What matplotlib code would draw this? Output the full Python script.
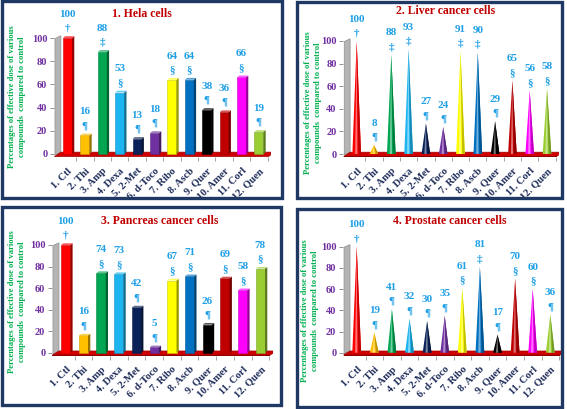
import matplotlib
matplotlib.use('Agg')
import matplotlib.pyplot as plt
from matplotlib.patches import Polygon, Rectangle
from matplotlib.colors import to_rgb
import numpy as np

W, H = 567, 409

categories = ["1. Ctl", "2. Thi", "3. Amp", "4. Dexa", "5. 2-Met", "6. d-Toco",
              "7. Ribo", "8. Ascb", "9. Quer", "10. Amer", "11. Corl", "12. Quen"]

hela_values = [100, 16, 88, 53, 13, 18, 64, 64, 38, 36, 66, 19]
hela_marks = ["†", "¶", "‡", "§", "¶", "¶", "§", "§", "¶", "¶", "§", "¶"]

liver_values = [100, 8, 88, 93, 27, 24, 91, 90, 29, 65, 56, 58]
liver_marks = ["†", "¶", "‡", "‡", "¶", "¶", "‡", "‡", "¶", "§", "§", "§"]

pancreas_values = [100, 16, 74, 73, 42, 5, 67, 71, 26, 69, 58, 78]
pancreas_marks = ["†", "¶", "§", "§", "¶", "¶", "§", "§", "¶", "§", "§", "§"]

prostate_values = [100, 19, 41, 32, 30, 35, 61, 81, 17, 70, 60, 36]
prostate_marks = ["†", "¶", "¶", "¶", "¶", "¶", "§", "‡", "¶", "§", "§", "¶"]

titles = ["1. Hela cells", "2. Liver cancer cells",
          "3. Pancreas cancer cells", "4. Prostate cancer cells"]
y_ticks = [0, 20, 40, 60, 80, 100]
y_label = "Percentages of effective dose of various\ncompounds  compared to control"

colors = ['#FF0000', '#FFC000', '#00A651', '#1CB5F0', '#0A2257', '#7030A0',
          '#FFFF00', '#0070C0', '#000000', '#C00000', '#FF00FF', '#9ACD32']

TITLE_C = '#C00000'
YLAB_C = '#00B050'
YTICK_C = '#7030A0'
XTICK_C = '#1F2D5A'
VAL_C = '#1E9FE6'
BORDER_C = '#1F3864'

plt.rcParams['font.family'] = ['Liberation Serif', 'DejaVu Serif']
plt.rcParams['font.weight'] = 'bold'

fig = plt.figure(figsize=(W / 100, H / 100), dpi=100)
fig.patch.set_facecolor('white')


def shade(c, f):
    return tuple(np.clip(np.array(to_rgb(c)) * f, 0, 1))


def tint(c, f):
    rgb = np.array(to_rgb(c))
    return tuple(rgb + (1 - rgb) * f)


panels = [
    dict(values=hela_values, marks=hela_marks, title=titles[0], kind='bar',
         box=(2, 1, 282, 198), x0=67.5, dx=17.4, y0=154, sy=1.16,
         title_xy=(142, 14), ylab_xy=(17, 97)),
    dict(values=liver_values, marks=liver_marks, title=titles[1], kind='cone',
         box=(297, 2, 562, 198), x0=356.7, dx=17.3, y0=154, sy=1.13,
         title_xy=(446, 11), ylab_xy=(313, 103)),
    dict(values=pancreas_values, marks=pancreas_marks, title=titles[2], kind='bar',
         box=(2, 207, 281, 405), x0=65.7, dx=17.7, y0=352.7, sy=1.077,
         title_xy=(160, 221), ylab_xy=(17, 302)),
    dict(values=prostate_values, marks=prostate_marks, title=titles[3], kind='cone',
         box=(297, 209, 562, 407), x0=356.7, dx=17.6, y0=352.7, sy=1.06,
         title_xy=(450, 221), ylab_xy=(310, 311)),
]

XMIN, XMAX = -0.8, 11.7
YMIN, YMAX = -3, 115

for p in panels:
    bx0, by0, bx1, by1 = p['box']
    fig.add_artist(Rectangle((bx0 / W, 1 - by1 / H), (bx1 - bx0) / W, (by1 - by0) / H,
                             transform=fig.transFigure, fill=False,
                             ec=BORDER_C, lw=2.4, zorder=10))

    left_px = p['x0'] + XMIN * p['dx']
    right_px = p['x0'] + XMAX * p['dx']
    bottom_px = p['y0'] - YMIN * p['sy']
    top_px = p['y0'] - YMAX * p['sy']
    ax = fig.add_axes([left_px / W, 1 - bottom_px / H,
                       (right_px - left_px) / W, (bottom_px - top_px) / H])
    ax.set_xlim(XMIN, XMAX)
    ax.set_ylim(YMIN, YMAX)
    ax.patch.set_alpha(0)
    for s in ax.spines.values():
        s.set_visible(False)

    n = len(categories)
    xs = np.arange(n)

    # back wall (grey) and floor (red)
    ax.add_patch(Polygon([(-0.72, -1.0), (-0.38, 1.5), (-0.38, 102.0), (-0.72, 99.5)],
                         closed=True, fc='#B4B4B4', ec='#909090', lw=0.5, zorder=1))
    ax.add_patch(Polygon([(-0.75, -2.2), (n - 0.45, -2.2), (n - 0.1, 1.6), (-0.38, 1.6)],
                         closed=True, fc='#D00000', ec='#A00000', lw=0.5, zorder=1))
    ax.add_patch(Polygon([(-0.75, -2.2), (n - 0.45, -2.2), (n - 0.45, -3.0), (-0.75, -3.0)],
                         closed=True, fc='#900000', ec='none', zorder=1))

    vals = p['values']
    for i, (v, c) in enumerate(zip(vals, colors)):
        if p['kind'] == 'bar':
            w = 0.52
            ddx, ddy = 0.13, 1.6
            ax.bar(i, v, width=w, color=c, edgecolor=shade(c, 0.8), lw=0.4, zorder=3)
            ax.add_patch(Polygon([(i + w / 2, 0), (i + w / 2 + ddx, ddy),
                                  (i + w / 2 + ddx, v + ddy), (i + w / 2, v)],
                                 closed=True, fc=shade(c, 0.6), ec='none', zorder=3))
            ax.add_patch(Polygon([(i - w / 2, v), (i - w / 2 + ddx, v + ddy),
                                  (i + w / 2 + ddx, v + ddy), (i + w / 2, v)],
                                 closed=True, fc=tint(c, 0.35), ec='none', zorder=3))
            top = v + ddy
        else:
            w = 0.5
            ax.add_patch(Polygon([(i - w / 2, 0), (i + w / 2, 0), (i, v)],
                                 closed=True, fc=c, ec='none', zorder=3))
            ax.add_patch(Polygon([(i - 0.09, 0), (i + 0.04, 0), (i, v)],
                                 closed=True, fc=tint(c, 0.45), ec='none', zorder=3))
            ax.add_patch(Polygon([(i + 0.1, 0), (i + w / 2, 0), (i, v)],
                                 closed=True, fc=shade(c, 0.75), ec='none', zorder=3))
            top = v
        ax.annotate(p['marks'][i], (i, top), xytext=(0, 2.5), textcoords='offset points',
                    ha='center', va='bottom', color=VAL_C, fontsize=8,
                    fontweight='bold', annotation_clip=False)
        ax.annotate(str(v), (i, top), xytext=(0, 12.5), textcoords='offset points',
                    ha='center', va='bottom', color=VAL_C, fontsize=8,
                    fontweight='bold', annotation_clip=False)

    ax.set_yticks(y_ticks)
    ax.set_yticklabels([str(t) for t in y_ticks], color=YTICK_C, fontsize=7.5,
                       fontweight='bold')
    ax.tick_params(axis='y', length=3, width=0.6, color='#808080', pad=1.5)

    ax.set_xticks(xs)
    ax.set_xticklabels(categories, rotation=45, ha='right', va='top',
                       rotation_mode='anchor', color=XTICK_C, fontsize=7.5,
                       fontweight='bold')
    ax.tick_params(axis='x', length=0, pad=6.5)
    ax.set_xticks(xs + 0.5, minor=True)
    ax.tick_params(axis='x', which='minor', length=3, width=0.5, color='#808080')

    tx, ty = p['title_xy']
    fig.text(tx / W, 1 - ty / H, p['title'], ha='center', va='center',
             color=TITLE_C, fontsize=8.5, fontweight='bold')
    lx, ly = p['ylab_xy']
    fig.text(lx / W, 1 - ly / H, y_label, ha='center', va='center', rotation=90,
             color=YLAB_C, fontsize=6.2, fontweight='bold', linespacing=1.25,
             multialignment='center')

fig.savefig('out.png', dpi=100, facecolor='white')
